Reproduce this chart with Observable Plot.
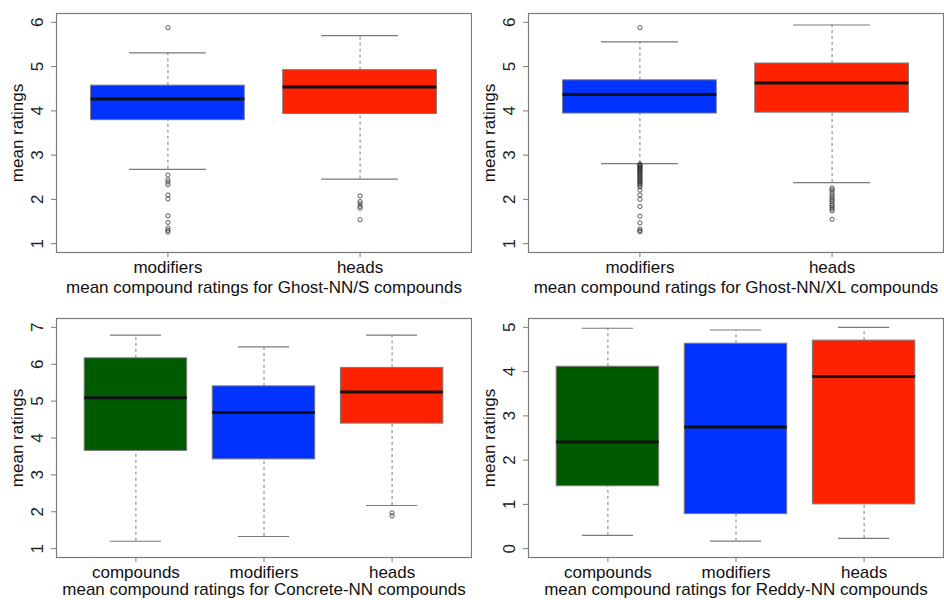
<!DOCTYPE html>
<html>
<head>
<meta charset="utf-8">
<script src="https://cdn.jsdelivr.net/npm/d3@7"></script>
<script src="https://cdn.jsdelivr.net/npm/@observablehq/plot@0.6"></script>
<style>
  body { margin: 0; background: #fff; }
  #grid { width: 944px; height: 600px; display: flex; flex-wrap: wrap; }
  #grid svg { display: block; overflow: visible; font-family: "Liberation Sans", Arial, Helvetica, sans-serif; }
</style>
</head>
<body>
<div id="grid"></div>
<script>
// ---- Data ----
const colors3 = ["#005a00", "#0033ff", "#ff2200"];
const colors2 = ["#0033ff", "#ff2200"];

// Panel 1: Ghost-NN/S
const ghostS_cats = ["modifiers", "heads"];
const ghostS_lo  = [2.68, 2.46];
const ghostS_q1  = [3.79, 3.93];
const ghostS_med = [4.27, 4.54];
const ghostS_q3  = [4.57, 4.92];
const ghostS_hi  = [5.31, 5.70];
const ghostS_out = [
  [5.88, 2.55, 2.44, 2.39, 2.33, 2.10, 2.01, 1.63, 1.48, 1.35, 1.30, 1.26],
  [2.08, 1.95, 1.90, 1.84, 1.80, 1.54]
];

// Panel 2: Ghost-NN/XL
const ghostXL_cats = ["modifiers", "heads"];
const ghostXL_lo  = [2.81, 2.38];
const ghostXL_q1  = [3.94, 3.96];
const ghostXL_med = [4.37, 4.63];
const ghostXL_q3  = [4.69, 5.07];
const ghostXL_hi  = [5.56, 5.94];
const ghostXL_out = [
  [5.88, 2.80, 2.78, 2.76, 2.74, 2.72, 2.70, 2.68, 2.66, 2.64, 2.62, 2.60, 2.57, 2.55, 2.52,
   2.50, 2.47, 2.45, 2.42, 2.40, 2.37, 2.35, 2.32, 2.28, 2.21, 2.10, 2.00, 1.84, 1.62, 1.47,
   1.33, 1.29, 1.27],
  [2.26, 2.22, 2.18, 2.13, 2.08, 2.03, 1.99, 1.95, 1.90, 1.86, 1.82, 1.78, 1.74, 1.55]
];

// Panel 3: Concrete-NN
const concrete_cats = ["compounds", "modifiers", "heads"];
const concrete_lo  = [1.20, 1.33, 2.17];
const concrete_q1  = [3.65, 3.42, 4.39];
const concrete_med = [5.09, 4.69, 5.25];
const concrete_q3  = [6.16, 5.40, 5.90];
const concrete_hi  = [6.79, 6.47, 6.79];
const concrete_out = [[], [], [1.97, 1.89]];

// Panel 4: Reddy-NN
const reddy_cats = ["compounds", "modifiers", "heads"];
const reddy_lo  = [0.30, 0.17, 0.23];
const reddy_q1  = [1.41, 0.78, 1.00];
const reddy_med = [2.41, 2.75, 3.89];
const reddy_q3  = [4.11, 4.63, 4.70];
const reddy_hi  = [4.98, 4.94, 5.00];
const reddy_out = [[], [], []];

const yTicksS = [1, 2, 3, 4, 5, 6];
const yTicksC = [1, 2, 3, 4, 5, 6, 7];
const yTicksR = [0, 1, 2, 3, 4, 5];

const captions = [
  "mean compound ratings for Ghost-NN/S compounds",
  "mean compound ratings for Ghost-NN/XL compounds",
  "mean compound ratings for Concrete-NN compounds",
  "mean compound ratings for Reddy-NN compounds"
];
const yTitle = "mean ratings";

// ---- Drawing ----
const GRAY = "#7a7a7a";
const FS = 17;

function panel({cats, lo, q1, med, q3, hi, out, colors, ylim, yTicks, caption, top}) {
  const n = cats.length;
  const boxes = cats.map((c, k) => ({i: k + 1, c, lo: lo[k], q1: q1[k], med: med[k], q3: q3[k], hi: hi[k], color: colors[k]}));
  const outs = out.flatMap((arr, k) => arr.map(v => ({i: k + 1, v})));
  const pad = (ylim[1] - ylim[0]) * 0.04;
  const mt = top ? 13 : 18;
  const mb = top ? 48 : 43;
  return Plot.plot({
    width: 472, height: 300,
    marginLeft: 56, marginRight: 1, marginTop: mt, marginBottom: mb,
    style: {fontFamily: "\"Liberation Sans\", Arial, Helvetica, sans-serif", background: "white", overflow: "visible"},
    x: {domain: [0.5 - 0.04 * n, n + 0.5 + 0.04 * n], axis: null},
    y: {domain: [ylim[0] - pad, ylim[1] + pad], axis: null},
    marks: [
      // whiskers (dashed)
      Plot.ruleX(boxes, {x: "i", y1: "lo", y2: "q1", stroke: GRAY, strokeDasharray: "3,3"}),
      Plot.ruleX(boxes, {x: "i", y1: "q3", y2: "hi", stroke: GRAY, strokeDasharray: "3,3"}),
      // whisker caps
      Plot.ruleY(boxes, {y: "lo", x1: d => d.i - 0.2, x2: d => d.i + 0.2, stroke: GRAY, strokeWidth: 1.2}),
      Plot.ruleY(boxes, {y: "hi", x1: d => d.i - 0.2, x2: d => d.i + 0.2, stroke: GRAY, strokeWidth: 1.2}),
      // boxes
      Plot.rect(boxes, {x1: d => d.i - 0.4, x2: d => d.i + 0.4, y1: "q1", y2: "q3", fill: "color", stroke: GRAY, strokeWidth: 1}),
      // medians
      Plot.ruleY(boxes, {y: "med", x1: d => d.i - 0.4, x2: d => d.i + 0.4, stroke: "#111", strokeWidth: 3}),
      // outliers
      Plot.dot(outs, {x: "i", y: "v", r: 2.1, stroke: "#333", strokeWidth: 0.8, fill: "none"}),
      // frame
      Plot.frame({stroke: GRAY, strokeWidth: 1.2}),
      // y axis ticks and rotated labels
      Plot.axisY({ticks: yTicks, tickSize: 5, tickFormat: () => "", stroke: GRAY, label: null}),
      Plot.text(yTicks, {y: d => d, text: d => String(d), frameAnchor: "left", textAnchor: "middle", lineAnchor: "middle", dx: -19, rotate: -90, fontSize: FS, fill: "#222"}),
      Plot.text([yTitle], {frameAnchor: "left", textAnchor: "middle", lineAnchor: "middle", dx: -39, rotate: -90, text: d => d, fontSize: FS, fill: "#111"}),
      // x axis
      Plot.axisX({ticks: boxes.map(b => b.i), tickFormat: i => cats[i - 1], tickSize: 5, tickPadding: 3, fontSize: FS, stroke: GRAY, fill: "#111", label: null}),
      Plot.text([caption], {frameAnchor: "bottom", textAnchor: "middle", lineAnchor: "middle", dy: top ? 35 : 32, text: d => d, fontSize: FS, fill: "#111"})
    ]
  });
}

const grid = document.getElementById("grid");
grid.append(panel({cats: ghostS_cats, lo: ghostS_lo, q1: ghostS_q1, med: ghostS_med, q3: ghostS_q3, hi: ghostS_hi, out: ghostS_out, colors: colors2, ylim: [1, 6], yTicks: yTicksS, caption: captions[0], top: true}));
grid.append(panel({cats: ghostXL_cats, lo: ghostXL_lo, q1: ghostXL_q1, med: ghostXL_med, q3: ghostXL_q3, hi: ghostXL_hi, out: ghostXL_out, colors: colors2, ylim: [1, 6], yTicks: yTicksS, caption: captions[1], top: true}));
grid.append(panel({cats: concrete_cats, lo: concrete_lo, q1: concrete_q1, med: concrete_med, q3: concrete_q3, hi: concrete_hi, out: concrete_out, colors: colors3, ylim: [1, 7], yTicks: yTicksC, caption: captions[2], top: false}));
grid.append(panel({cats: reddy_cats, lo: reddy_lo, q1: reddy_q1, med: reddy_med, q3: reddy_q3, hi: reddy_hi, out: reddy_out, colors: colors3, ylim: [0, 5], yTicks: yTicksR, caption: captions[3], top: false}));
</script>
</body>
</html>
